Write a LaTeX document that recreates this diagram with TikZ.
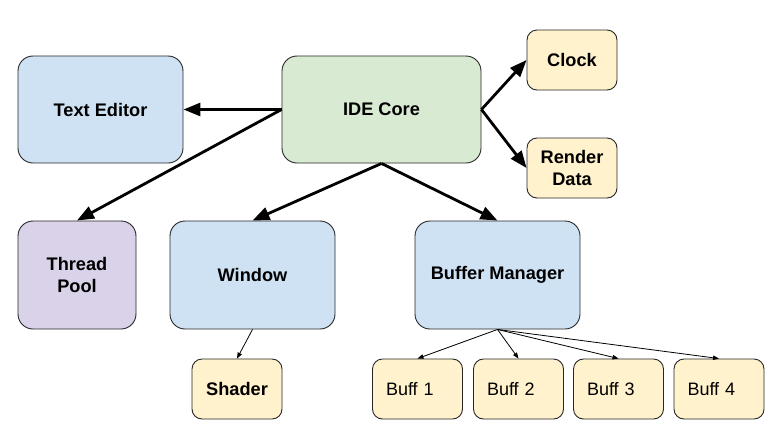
\documentclass[tikz,border=0pt]{standalone}
\usepackage{fontspec}
\setmainfont{Liberation Sans}
\usetikzlibrary{arrows.meta}
\definecolor{cblue}{HTML}{CFE2F3}
\definecolor{cgreen}{HTML}{D9EAD3}
\definecolor{cyellow}{HTML}{FFF2CC}
\definecolor{cpurple}{HTML}{D9D2E9}
\tikzset{
  box/.style={draw=black!85, line width=0.9pt, rounded corners=15pt, inner sep=0pt,
    align=center, font=\fontsize{18.2}{22}\selectfont\bfseries},
  bigbox/.style={box, minimum width=165pt, minimum height=107pt},
  smallbox/.style={box, rounded corners=10pt, minimum width=90pt, minimum height=60pt, fill=cyellow},
  buffbox/.style={smallbox, font=\fontsize{18}{22}\selectfont, align=left,
    inner xsep=13pt, text width=63pt},
  thick arrow/.style={line width=2.8pt, -{Triangle[length=17pt,width=13pt]}},
  thin arrow/.style={line width=0.8pt, -{Triangle[length=6pt,width=4.5pt]}},
}
\begin{document}
\begin{tikzpicture}[x=1pt,y=-1pt]
\useasboundingbox (0,0) rectangle (784,445);
\node[bigbox, fill=cblue] (te) at (100.5,109.5) {Text Editor};
\node[bigbox, fill=cgreen, minimum width=199pt] (core) at (381.5,109.5) {IDE Core};
\node[smallbox] (clock) at (572,60) {Clock};
\node[smallbox] (rd) at (572,168) {Render\\Data};
\node[bigbox, fill=cpurple, minimum width=118pt, minimum height=108pt] (tp) at (77,275) {Thread\\Pool};
\node[bigbox, fill=cblue, minimum height=108pt] (win) at (252.5,275) {Window};
\node[bigbox, fill=cblue, minimum height=108pt] (bm) at (497.5,275) {Buffer Manager};
\node[smallbox] (sh) at (237,389) {Shader};
\node[buffbox] (b1) at (417.5,389) {Buff 1};
\node[buffbox] (b2) at (518.5,389) {Buff 2};
\node[buffbox] (b3) at (618.5,389) {Buff 3};
\node[buffbox] (b4) at (719,389) {Buff 4};
\draw[thick arrow] (core.west) -- (te.east);
\draw[thick arrow] (core.west) -- (tp.north);
\draw[thick arrow] (core.south) -- (win.north);
\draw[thick arrow] (core.south) -- (bm.north);
\draw[thick arrow] (core.east) -- (clock.west);
\draw[thick arrow] (core.east) -- (rd.west);
\draw[thin arrow] (win.south) -- (sh.north);
\draw[thin arrow] (bm.south) -- (b1.north);
\draw[thin arrow] (bm.south) -- (b2.north);
\draw[thin arrow] (bm.south) -- (b3.north);
\draw[thin arrow] (bm.south) -- (b4.north);
\end{tikzpicture}
\end{document}
